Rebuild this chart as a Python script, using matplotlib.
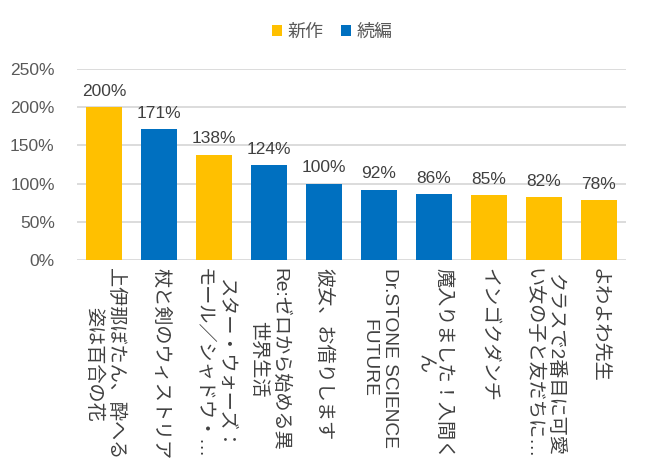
import matplotlib
matplotlib.use("Agg")
import matplotlib.pyplot as plt
from matplotlib.patches import Patch
from matplotlib.ticker import FuncFormatter

# data
titles = [
    "上伊那ぼたん、酔へる\n姿は百合の花",
    "杖と剣のウィストリア",
    "スター・ウォーズ：\nモール／シャドウ・…",
    "Re:ゼロから始める異\n世界生活",
    "彼女、お借りします",
    "Dr.STONE SCIENCE\nFUTURE",
    "魔入りました！入間く\nん",
    "インゴクダンチ",
    "クラスで2番目に可愛\nい女の子と友だちに…",
    "よわよわ先生",
]
ratios = [2.00, 1.71, 1.38, 1.24, 1.00, 0.92, 0.86, 0.85, 0.82, 0.78]
kinds = ["新作", "続編", "新作", "続編", "続編", "続編", "続編", "新作", "新作", "新作"]
legend_names = ["新作", "続編"]

palette = {"新作": "#FFC000", "続編": "#0070C0"}
jp_font = ["Liberation Sans", "Noto Sans CJK JP", "DejaVu Sans"]

fig = plt.figure(figsize=(6.49, 4.73), dpi=100)
ax = fig.add_axes([0.1186, 0.4503, 0.846, 0.4038])

x = list(range(len(titles)))
bars = ax.bar(x, ratios, width=0.655, color=[palette[k] for k in kinds], zorder=3)

# value labels above bars
for bar, v in zip(bars, ratios):
    ax.annotate(f"{v * 100:.0f}%", (bar.get_x() + bar.get_width() / 2, bar.get_height()),
                xytext=(0, 6), textcoords="offset points", ha="center", va="bottom",
                fontsize=12.5, color="#404040", family="Liberation Sans")

ax.set_ylim(0, 2.5)
ax.set_xlim(-0.5, len(titles) - 0.5)
ax.set_yticks([0, 0.5, 1.0, 1.5, 2.0, 2.5])
ax.yaxis.set_major_formatter(FuncFormatter(lambda v, _: f"{v * 100:.0f}%"))
for lbl in ax.get_yticklabels():
    lbl.set_family("Liberation Sans")
    lbl.set_fontsize(12.5)
    lbl.set_color("#595959")

ax.set_xticks(x)
ax.set_xticklabels(titles, rotation=-90, ha="center", va="top", multialignment="center",
                   family=jp_font, fontsize=13.8, color="#404040", linespacing=1.25)

ax.tick_params(axis="both", length=0, pad=6)
ax.tick_params(axis="y", pad=16)
ax.grid(axis="y", color="#D9D9D9", linewidth=1.3, zorder=0)
for s in ax.spines.values():
    s.set_visible(False)

handles = [Patch(facecolor=palette[n], edgecolor="none") for n in legend_names]
fig.legend(handles, legend_names, loc="center", bbox_to_anchor=(0.512, 0.932), ncol=2,
           frameon=False, handlelength=0.55, handleheight=0.55, handletextpad=0.3,
           columnspacing=1.0, prop={"family": jp_font, "size": 13}, labelcolor="#595959")

fig.savefig("out.png", dpi=100)
